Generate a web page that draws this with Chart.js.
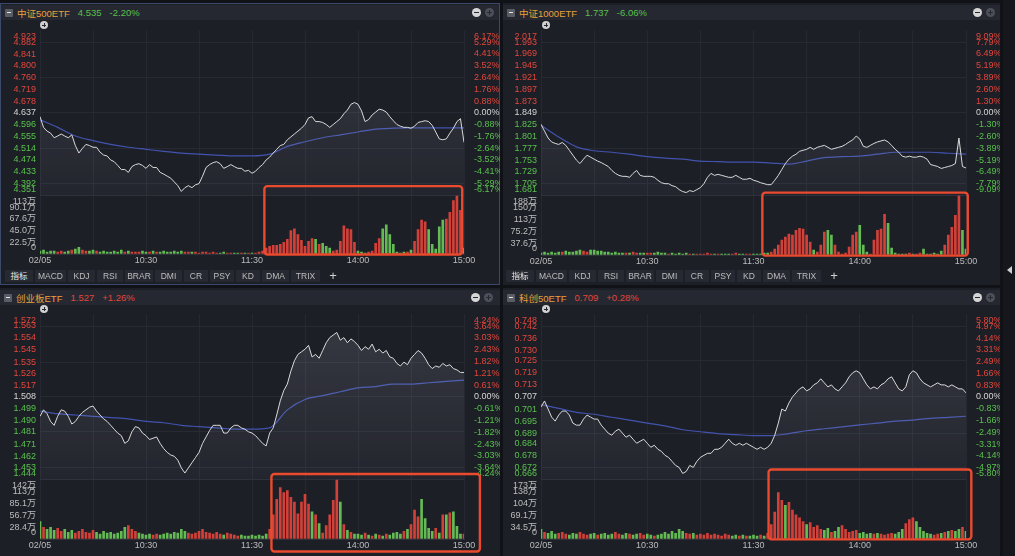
<!DOCTYPE html>
<html>
<head>
<meta charset="utf-8">
<script src="https://cdn.jsdelivr.net/npm/chart.js@4.4.1/dist/chart.umd.min.js"></script>
<style>
  body { margin:0; width:1015px; height:556px; background:#111217; position:relative; overflow:hidden;
         font-family:"Liberation Sans","Noto Sans CJK SC",sans-serif; }
  .panel { position:absolute; background:#1d1f27; box-sizing:border-box; }
  .head { position:absolute; height:15px; background:#262831; display:flex; align-items:center; font-size:9.5px; white-space:nowrap; }
  .mbox { width:8px; height:8px; margin:0 4px 0 4px; background:#5a5d66; border-radius:1px; position:relative; }
  .mbox::after { content:''; position:absolute; left:2px; right:2px; top:3.5px; height:1px; background:#e6e6e6; }
  .head span { margin-right:8px; }
  .nm { color:#e9a03a; }
  .up { color:#e2463b; }
  .dn { color:#58c04c; }
  .ic { position:absolute; width:9px; height:9px; border-radius:50%; }
  .ic::before, .ic::after { content:''; position:absolute; background:#262831; }
  .ic::after { left:2px; right:2px; top:4px; height:1px; }
  .mi { background:#d6d6d6; }
  .mi::before { display:none; }
  .pl { background:#4d5059; }
  .pl::before { top:2px; bottom:2px; left:4px; width:1px; }
  .pl2 { background:#cfcfcf; width:8px; height:8px; }
  .pl2::before { top:2px; bottom:2px; left:3.5px; width:1px; }
  .pl2::after { top:3.5px; }
  canvas { position:absolute; }
  .tab { position:absolute; top:270px; height:12px; line-height:12px; font-size:8.5px; color:#bdbdbd; background:#272932; text-align:center; }
</style>
</head>
<body>
<div class="panel" style="left:0;top:3px;width:500px;height:282px;border:1px solid #3c4868"></div>
<div class="panel" style="left:503px;top:3px;width:497px;height:282px"></div>
<div class="panel" style="left:0;top:288px;width:500px;height:268px"></div>
<div class="panel" style="left:503px;top:288px;width:497px;height:268px"></div>

<div class="head" style="left:1px;top:5px;width:498px"><i class="mbox"></i><span class="nm">中证500ETF</span><span class="dn">4.535</span><span class="dn">-2.20%</span><i class="ic mi" style="left:471px;top:3px"></i><i class="ic pl" style="left:484px;top:3px"></i></div>
<div class="head" style="left:503px;top:5px;width:497px"><i class="mbox"></i><span class="nm">中证1000ETF</span><span class="dn">1.737</span><span class="dn">-6.06%</span><i class="ic mi" style="left:470px;top:3px"></i><i class="ic pl" style="left:483px;top:3px"></i></div>
<div class="head" style="left:0;top:290px;width:500px"><i class="mbox"></i><span class="nm">创业板ETF</span><span class="up">1.527</span><span class="up">+1.26%</span><i class="ic mi" style="left:471px;top:3px"></i><i class="ic pl" style="left:484px;top:3px"></i></div>
<div class="head" style="left:503px;top:290px;width:497px"><i class="mbox"></i><span class="nm">科创50ETF</span><span class="up">0.709</span><span class="up">+0.28%</span><i class="ic mi" style="left:470px;top:3px"></i><i class="ic pl" style="left:483px;top:3px"></i></div>

<canvas id="c1" width="500" height="247" style="left:0;top:21px"></canvas>
<canvas id="c2" width="499" height="248" style="left:501px;top:21px"></canvas>
<canvas id="c3" width="500" height="248" style="left:0;top:305px"></canvas>
<canvas id="c4" width="499" height="248" style="left:501px;top:305px"></canvas>

<i class="ic pl2" style="left:40px;top:21px"></i>
<i class="ic pl2" style="left:542px;top:21px"></i>
<i class="ic pl2" style="left:40px;top:305px"></i>
<i class="ic pl2" style="left:542px;top:305px"></i>

<div style="position:absolute;left:1003px;top:0;width:12px;height:556px;background:#16171c"></div>
<div style="position:absolute;left:1007px;top:266px;width:0;height:0;border-top:4px solid transparent;border-bottom:4px solid transparent;border-right:5px solid #cfcfcf"></div>

<script>
// 交易分钟 (9:30 起, 每 2 分钟一个点; 120 之后接 13:00)
const minutes = [0,2,4,6,8,10,12,14,16,18,20,22,24,26,28,30,32,34,36,38,40,42,44,46,48,50,52,54,56,58,
  60,62,64,66,68,70,72,74,76,78,80,82,84,86,88,90,92,94,96,98,100,102,104,106,108,110,112,114,116,118,
  120,122,124,126,128,130,132,134,136,138,140,142,144,146,148,150,152,154,156,158,160,162,164,166,168,170,172,174,176,178,
  180,182,184,186,188,190,192,194,196,198,200,202,204,206,208,210,212,214,216,218,220,222,224,226,228,230,232,234,236,238,240];
const avgMinutes = [0,10,20,30,40,50,60,70,80,90,100,110,120,130,140,150,160,170,180,190,200,210,220,230,240];
const xTicks = [0,30,60,90,120,150,180,210,240];
const xLabels = ['02/05','','10:30','','11:30','','14:00','','15:00'];
const tabNames = ['指标','MACD','KDJ','RSI','BRAR','DMI','CR','PSY','KD','DMA','TRIX','+'];

// 中证500ETF
const price500 = [4.624,4.587,4.574,4.567,4.551,4.557,4.564,4.557,4.551,4.561,
  4.524,4.498,4.514,4.528,4.524,4.518,4.518,4.501,4.491,4.488,
  4.474,4.468,4.455,4.441,4.441,4.431,4.451,4.458,4.461,4.455,
  4.445,4.458,4.448,4.448,4.431,4.425,4.418,4.411,4.398,4.385,
  4.365,4.378,4.385,4.378,4.388,4.392,4.418,4.448,4.458,4.465,
  4.468,4.461,4.445,4.451,4.458,4.451,4.445,4.445,4.435,4.438,
  4.428,4.435,4.448,4.458,4.474,4.484,4.498,4.511,4.524,4.528,
  4.544,4.554,4.564,4.574,4.584,4.597,4.620,4.624,4.607,4.607,
  4.604,4.597,4.587,4.597,4.607,4.617,4.634,4.647,4.667,4.673,
  4.667,4.644,4.607,4.614,4.630,4.640,4.650,4.647,4.640,4.624,
  4.610,4.597,4.591,4.587,4.587,4.584,4.591,4.604,4.607,4.610,
  4.607,4.594,4.571,4.547,4.544,4.547,4.567,4.584,4.607,4.617,
  4.535];
const avg500 = [4.613,4.587,4.557,4.541,4.528,4.518,4.511,4.504,4.498,4.494,4.491,4.488,4.488,
  4.494,4.521,4.537,4.551,4.561,4.571,4.581,4.584,4.585,4.585,4.585,4.585];
const vol500 = [5.6,7.5,3.8,5.6,5.6,3.8,5.6,3.8,5.6,7.5,
  9.4,13.1,7.5,5.6,5.6,7.5,5.6,3.8,5.6,3.8,
  3.8,5.6,3.8,7.5,3.8,5.6,3.8,3.8,3.8,5.6,
  3.8,3.8,5.6,3.8,3.8,5.6,3.8,3.8,5.6,3.8,
  5.6,3.8,3.8,3.8,3.8,1.9,3.8,3.8,1.9,3.8,
  1.9,1.9,3.8,1.9,1.9,1.9,1.9,1.9,1.9,1.9,
  1.9,
  1.9,3.8,5.6,11.3,15,16.9,16.9,18.8,22.5,28.1,
  45,48.8,37.5,26.3,15,24.4,30,28.1,18.8,20.6,
  15,11.3,5.6,7.5,24.4,54.4,48.8,46.9,22.5,5.6,
  3.8,1.9,3.8,5.6,20.6,30,48.8,56.3,37.5,18.8,
  3.8,1.9,3.8,3.8,7.5,24.4,46.9,65.6,61.9,46.9,
  18.8,9.4,52.5,65.6,67.5,80.6,103.1,112.5,84.4,11.3];
const ticks500 = [4.351,4.392,4.433,4.474,4.514,4.555,4.596,4.637,4.678,4.719,4.760,4.800,4.841,4.882,4.923];
const pct500 = [-6.17,-5.29,-4.41,-3.52,-2.64,-1.76,-0.88,0,0.88,1.76,2.64,3.52,4.41,5.29,6.17];
const vt500 = [0,22.5,45.0,67.6,90.1,113];
const box500 = [127,239,131,-1];

// 中证1000ETF
const price1000 = [1.826,1.812,1.798,1.790,1.787,1.785,1.789,1.783,1.773,1.763,
  1.753,1.746,1.755,1.763,1.759,1.755,1.751,1.748,1.744,1.740,
  1.732,1.726,1.722,1.720,1.720,1.718,1.726,1.732,1.722,1.720,
  1.720,1.720,1.718,1.712,1.707,1.705,1.705,1.701,1.699,1.693,
  1.689,1.687,1.691,1.689,1.693,1.697,1.705,1.718,1.726,1.722,
  1.724,1.722,1.720,1.718,1.718,1.722,1.718,1.714,1.714,1.716,
  1.712,1.710,1.707,1.705,1.703,1.703,1.712,1.722,1.734,1.746,
  1.755,1.761,1.765,1.771,1.773,1.775,1.779,1.775,1.779,1.781,
  1.783,1.779,1.775,1.777,1.779,1.781,1.785,1.790,1.794,1.802,
  1.796,1.781,1.779,1.783,1.787,1.790,1.792,1.794,1.790,1.783,
  1.775,1.769,1.761,1.759,1.761,1.759,1.759,1.761,1.759,1.755,
  1.744,1.742,1.740,1.736,1.738,1.740,1.742,1.746,1.798,1.740,
  1.737];
const avg1000 = [1.824,1.800,1.780,1.772,1.769,1.765,1.760,1.757,1.755,1.751,1.750,1.749,1.749,
  1.747,1.745,1.751,1.758,1.760,1.761,1.765,1.769,1.769,1.769,1.767,1.765];
const vol1000 = [6.3,9.4,6.3,9.4,6.3,9.4,9.4,12.5,9.4,9.4,
  12.5,15.7,12.5,9.4,15.7,15.7,12.5,12.5,9.4,9.4,
  6.3,9.4,6.3,6.3,6.3,6.3,9.4,6.3,6.3,6.3,
  6.3,6.3,6.3,9.4,6.3,6.3,3.1,6.3,3.1,6.3,
  3.1,6.3,3.1,3.1,3.1,3.1,3.1,6.3,3.1,3.1,
  3.1,3.1,3.1,3.1,3.1,6.3,3.1,3.1,3.1,3.1,
  3.1,
  3.1,3.1,6.3,6.3,9.4,18.8,31.3,47,56.4,65.8,
  62.7,78.3,84.6,81.5,62.7,40.7,15.7,9.4,31.3,72.1,
  78.3,62.7,31.3,9.4,3.1,6.3,25.1,62.7,72.1,94,
  31.3,9.4,3.1,47,78.3,81.5,128.5,100.3,21.9,6.3,
  3.1,3.1,3.1,6.3,3.1,3.1,6.3,18.8,3.1,3.1,
  6.3,3.1,12.5,31.3,62.7,87.7,125.3,188,78.3,18.8];
const ticks1000 = [1.681,1.705,1.729,1.753,1.777,1.801,1.825,1.849,1.873,1.897,1.921,1.945,1.969,1.993,2.017];
const pct1000 = [-9.09,-7.79,-6.49,-5.19,-3.89,-2.60,-1.30,0,1.30,2.60,3.89,5.19,6.49,7.79,9.09];
const vt1000 = [0,37.6,75.2,113,150,188];
const box1000 = [125,241,197,-2];

// 创业板ETF
const priceCyb = [1.493,1.498,1.495,1.489,1.486,1.493,1.498,1.497,1.493,1.487,
  1.489,1.493,1.496,1.498,1.500,1.501,1.497,1.494,1.491,1.489,
  1.486,1.483,1.480,1.478,1.472,1.474,1.481,1.485,1.484,1.480,
  1.478,1.475,1.476,1.477,1.472,1.468,1.465,1.463,1.462,1.459,
  1.453,1.449,1.453,1.457,1.461,1.465,1.472,1.477,1.482,1.486,
  1.486,1.486,1.480,1.480,1.484,1.486,1.486,1.484,1.483,1.481,
  1.480,1.478,1.475,1.472,1.470,1.480,1.484,1.494,1.505,1.513,
  1.518,1.528,1.536,1.541,1.543,1.545,1.548,1.539,1.541,1.538,
  1.544,1.550,1.554,1.556,1.558,1.552,1.554,1.550,1.553,1.551,
  1.548,1.544,1.547,1.545,1.549,1.543,1.545,1.542,1.544,1.539,
  1.538,1.534,1.532,1.535,1.533,1.538,1.541,1.544,1.542,1.538,
  1.533,1.530,1.532,1.531,1.534,1.532,1.533,1.530,1.529,1.527,
  1.527];
const avgCyb = [1.497,1.495,1.494,1.493,1.492,1.491,1.489,1.488,1.486,1.485,1.484,1.483,1.483,
  1.484,1.498,1.506,1.509,1.512,1.515,1.516,1.518,1.518,1.519,1.520,1.521];
const volCyb = [41.6,27.7,23.1,27.7,20.8,25.4,18.5,23.1,16.2,20.8,
  13.9,18.5,23.1,16.2,13.9,20.8,16.2,11.6,18.5,13.9,
  16.2,11.6,13.9,18.5,27.7,32.3,23.1,18.5,13.9,11.6,
  9.2,11.6,9.2,11.6,9.2,11.6,13.9,11.6,16.2,13.9,
  23.1,18.5,13.9,11.6,13.9,18.5,23.1,16.2,13.9,11.6,
  16.2,11.6,9.2,13.9,11.6,9.2,6.9,9.2,6.9,6.9,
  9.2,
  6.9,9.2,6.9,11.6,23.1,57.8,94.7,122.4,110.9,115.5,
  99.3,87.8,60.1,87.8,106.3,83.2,64.7,57.8,37,13.9,
  32.3,57.8,92.4,141,87.8,34.7,20.8,16.2,11.6,11.6,
  9.2,13.9,9.2,6.9,11.6,9.2,6.9,11.6,9.2,13.9,
  16.2,11.6,18.5,23.1,34.7,69.3,53.1,94.7,48.5,25.4,
  18.5,25.4,13.9,57.8,57.8,62.4,64.7,30,11.6,11.6];
const ticksCyb = [1.444,1.453,1.462,1.471,1.481,1.490,1.499,1.508,1.517,1.526,1.535,1.545,1.554,1.563,1.572];
const pctCyb = [-4.24,-3.64,-3.03,-2.43,-1.82,-1.21,-0.61,0,0.61,1.21,1.82,2.43,3.03,3.64,4.24];
const vtCyb = [0,28.4,56.7,85.1,113,142];
const boxCyb = [131,249,155,-30];

// 科创50ETF
const priceKc50 = [0.702,0.705,0.701,0.697,0.695,0.698,0.700,0.700,0.698,0.694,
  0.693,0.693,0.696,0.698,0.697,0.696,0.696,0.693,0.691,0.689,
  0.688,0.690,0.691,0.689,0.687,0.688,0.686,0.684,0.685,0.686,
  0.684,0.682,0.683,0.681,0.680,0.678,0.677,0.675,0.673,0.672,
  0.669,0.670,0.673,0.672,0.675,0.677,0.678,0.679,0.679,0.681,
  0.681,0.682,0.684,0.686,0.684,0.683,0.684,0.683,0.684,0.683,
  0.682,0.681,0.682,0.681,0.682,0.684,0.688,0.694,0.701,0.700,
  0.704,0.707,0.709,0.711,0.712,0.710,0.711,0.713,0.714,0.716,
  0.714,0.712,0.713,0.711,0.710,0.712,0.714,0.717,0.719,0.720,
  0.719,0.716,0.713,0.711,0.712,0.711,0.713,0.714,0.716,0.717,
  0.714,0.711,0.710,0.712,0.718,0.720,0.719,0.716,0.714,0.713,
  0.712,0.713,0.714,0.713,0.713,0.712,0.713,0.712,0.711,0.711,
  0.709];
const avgKc50 = [0.7032,0.7013,0.6993,0.6984,0.6969,0.6955,0.6940,0.6926,0.6907,0.6897,0.6888,0.6883,0.6878,
  0.6878,0.6888,0.6902,0.6912,0.6921,0.6931,0.6940,0.6950,0.6955,0.6964,0.6969,0.6974];
const volKc50 = [28.1,19.6,16.8,22.4,14,16.8,19.6,14,11.2,16.8,
  14,19.6,14,11.2,14,16.8,11.2,14,16.8,11.2,
  14,19.6,14,11.2,16.8,14,11.2,14,16.8,11.2,
  14,11.2,8.4,11.2,14,19.6,14,22.4,16.8,28.1,
  22.4,16.8,14,16.8,11.2,14,11.2,16.8,11.2,14,
  11.2,8.4,14,11.2,8.4,11.2,8.4,11.2,8.4,8.4,
  11.2,
  8.4,11.2,8.4,16.8,42.1,78.5,134.6,112.2,98.2,106.6,
  84.2,70.1,61.7,50.5,42.1,47.7,33.7,39.3,28.1,25.2,
  30.9,19.6,22.4,33.7,39.3,28.1,19.6,22.4,25.2,16.8,
  19.6,14,16.8,14,16.8,14,11.2,14,16.8,14,
  19.6,28.1,44.9,56.1,61.7,50.5,33.7,22.4,16.8,14,
  11.2,14,16.8,19.6,22.4,25.2,22.4,28.1,33.7,22.4];
const ticksKc50 = [0.666,0.672,0.678,0.684,0.689,0.695,0.701,0.707,0.713,0.719,0.725,0.730,0.736,0.742,0.748];
const pctKc50 = [-5.80,-4.97,-4.14,-3.31,-2.49,-1.66,-0.83,0,0.83,1.66,2.49,3.31,4.14,4.97,5.80];
const vtKc50 = [0,34.5,69.1,104,138,173];
const boxKc50 = [128.5,243,202,-1];

const RED = '#e2463b', GREEN = '#58c04c', WHITE = '#d4d4d4', GREY = '#bcbcbc';
const FONT = { family: 'Liberation Sans, Noto Sans CJK SC', size: 9 };
const NONE = 'rgba(0,0,0,0)';

function tone(x) {
  if (x > 1e-9) return RED;
  if (x < -1e-9) return GREEN;
  return WHITE;
}

function volLabel(v) {
  if (v === 0) return '0';
  return (v >= 100 ? Math.round(v) : v.toFixed(1)) + '万';
}

// 上下两端的刻度文字往里收, 不压出绘图区
const clampLabels = {
  id: 'clampLabels',
  beforeDraw(chart) {
    ['y', 'v', 'yR'].forEach(id => {
      const s = chart.scales[id];
      s.getLabelItems().forEach(it => {
        const t = it.options.translation;
        t[1] = Math.min(Math.max(t[1], s.top + 6), s.bottom - 6);
      });
    });
  }
};

function fillGrad(c) {
  const s = c.chart.scales.y;
  if (!s || !c.chart.chartArea) return 'rgba(200,205,220,0.08)';
  const g = c.chart.ctx.createLinearGradient(0, s.top, 0, s.bottom);
  g.addColorStop(0, 'rgba(205,210,225,0.15)');
  g.addColorStop(1, 'rgba(205,210,225,0.04)');
  return g;
}

function panel(canvasId, d) {
  const up = 'rgba(219,67,58,0.95)', dn = 'rgba(104,196,86,0.95)';
  const barColors = d.vols.map((_, i) => (d.prices[i] >= (i ? d.prices[i - 1] : d.ref) ? up : dn));
  const qMax = d.pctTicks[d.pctTicks.length - 1];
  const vTop = d.volTicks.length - 1;

  const redBox = {
    id: 'redBox',
    afterDraw(chart) {
      const { x, v } = chart.scales, b = d.box, ctx = chart.ctx;
      const x0 = x.getPixelForValue(b[0]), x1 = x.getPixelForValue(b[1]);
      const y0 = v.getPixelForValue(b[2]), y1 = v.getPixelForValue(b[3]);
      ctx.save();
      ctx.strokeStyle = '#ea4a2e';
      ctx.lineWidth = 2.4;
      ctx.beginPath();
      ctx.roundRect(x0, y0, x1 - x0, y1 - y0, 3);
      ctx.stroke();
      ctx.restore();
    }
  };

  return new Chart(document.getElementById(canvasId), {
    type: 'line',
    data: {
      datasets: [
        { data: minutes.map((m, i) => ({ x: m, y: d.prices[i] })), yAxisID: 'y',
          borderColor: '#dadada', borderWidth: 1, pointRadius: 0, tension: 0,
          fill: 'start', backgroundColor: fillGrad },
        { data: avgMinutes.map((m, i) => ({ x: m, y: d.avg[i] })), yAxisID: 'y',
          borderColor: '#4253ad', borderWidth: 1.2, pointRadius: 0,
          cubicInterpolationMode: 'monotone', fill: false },
        { type: 'bar', data: minutes.map((m, i) => ({ x: m, y: d.vols[i] })), yAxisID: 'v',
          backgroundColor: barColors, barThickness: 2, borderWidth: 0 }
      ]
    },
    options: {
      responsive: false,
      animation: false,
      events: [],
      layout: { padding: 0, autoPadding: false },
      plugins: { legend: { display: false }, tooltip: { enabled: false } },
      scales: {
        x: {
          type: 'linear', min: 0, max: 240, offset: false,
          afterBuildTicks: s => { s.ticks = xTicks.map(v => ({ value: v })); },
          afterFit: s => { s.height = 14; },
          ticks: { autoSkip: false, maxRotation: 0, padding: 1, color: GREY, font: FONT,
                   callback: (v, i) => xLabels[i] },
          grid: { color: '#262932', drawTicks: false, offset: false },
          border: { color: '#2e313a' }
        },
        y: {
          position: 'left', stack: 'L', stackWeight: 172, weight: 2,
          min: d.priceTicks[0], max: d.priceTicks[d.priceTicks.length - 1],
          afterBuildTicks: s => { s.ticks = d.priceTicks.map(v => ({ value: v })); },
          afterFit: s => { s.width = d.leftW; },
          ticks: { autoSkip: false, padding: 4, font: FONT,
                   callback: v => v.toFixed(3), color: c => tone(c.tick.value - d.ref) },
          grid: { drawTicks: false, color: c => (c.index % 3 === 1 ? '#272a33' : NONE) },
          border: { display: false }
        },
        v: {
          position: 'left', stack: 'L', stackWeight: d.volW, weight: 1,
          min: 0, max: d.volTicks[vTop],
          afterBuildTicks: s => { s.ticks = d.volTicks.map(v => ({ value: v })); },
          afterFit: s => { s.width = d.leftW; },
          ticks: { autoSkip: false, padding: 4, font: FONT, color: GREY, callback: volLabel },
          grid: { drawTicks: false, color: c => (c.index === vTop ? '#2d303a' : NONE) },
          border: { display: false }
        },
        yR: {
          position: 'right', stack: 'R', stackWeight: 172, weight: 1,
          min: -qMax, max: qMax,
          afterBuildTicks: s => { s.ticks = d.pctTicks.map(v => ({ value: v })); },
          afterFit: s => { s.width = d.rightW; },
          ticks: { autoSkip: false, padding: 2, font: FONT,
                   callback: v => v.toFixed(2) + '%', color: c => tone(c.tick.value) },
          grid: { display: false },
          border: { display: false }
        },
        vR: {
          position: 'right', stack: 'R', stackWeight: d.volW, weight: 2,
          afterFit: s => { s.width = d.rightW; },
          ticks: { display: false },
          grid: { display: false },
          border: { display: false }
        }
      }
    },
    plugins: [clampLabels, redBox]
  });
}

panel('c1', { ref: 4.637, prices: price500, avg: avg500, vols: vol500, priceTicks: ticks500,
  pctTicks: pct500, volTicks: vt500, box: box500, leftW: 40, rightW: 36, volW: 61 });
panel('c2', { ref: 1.849, prices: price1000, avg: avg1000, vols: vol1000, priceTicks: ticks1000,
  pctTicks: pct1000, volTicks: vt1000, box: box1000, leftW: 40, rightW: 34, volW: 62 });
panel('c3', { ref: 1.508, prices: priceCyb, avg: avgCyb, vols: volCyb, priceTicks: ticksCyb,
  pctTicks: pctCyb, volTicks: vtCyb, box: boxCyb, leftW: 40, rightW: 36, volW: 62 });
panel('c4', { ref: 0.707, prices: priceKc50, avg: avgKc50, vols: volKc50, priceTicks: ticksKc50,
  pctTicks: pctKc50, volTicks: vtKc50, box: boxKc50, leftW: 40, rightW: 34, volW: 62 });

// 指标栏
const tabLeft = [5, 35, 68, 97, 125, 155, 184, 210, 236, 262, 291, 326];
const tabWidth = [28, 31, 27, 26, 28, 27, 24, 24, 24, 27, 29, 14];
[0, 501].forEach(off => {
  tabNames.forEach((name, i) => {
    const el = document.createElement('div');
    el.className = 'tab';
    el.textContent = name;
    el.style.left = (off + tabLeft[i]) + 'px';
    el.style.width = tabWidth[i] + 'px';
    if (name === '+') {
      el.style.background = 'none';
      el.style.fontSize = '13px';
      el.style.color = '#d0d0d0';
    }
    if (i === 0) el.style.color = '#e6e6e6';
    document.body.appendChild(el);
  });
});
</script>
</body>
</html>
